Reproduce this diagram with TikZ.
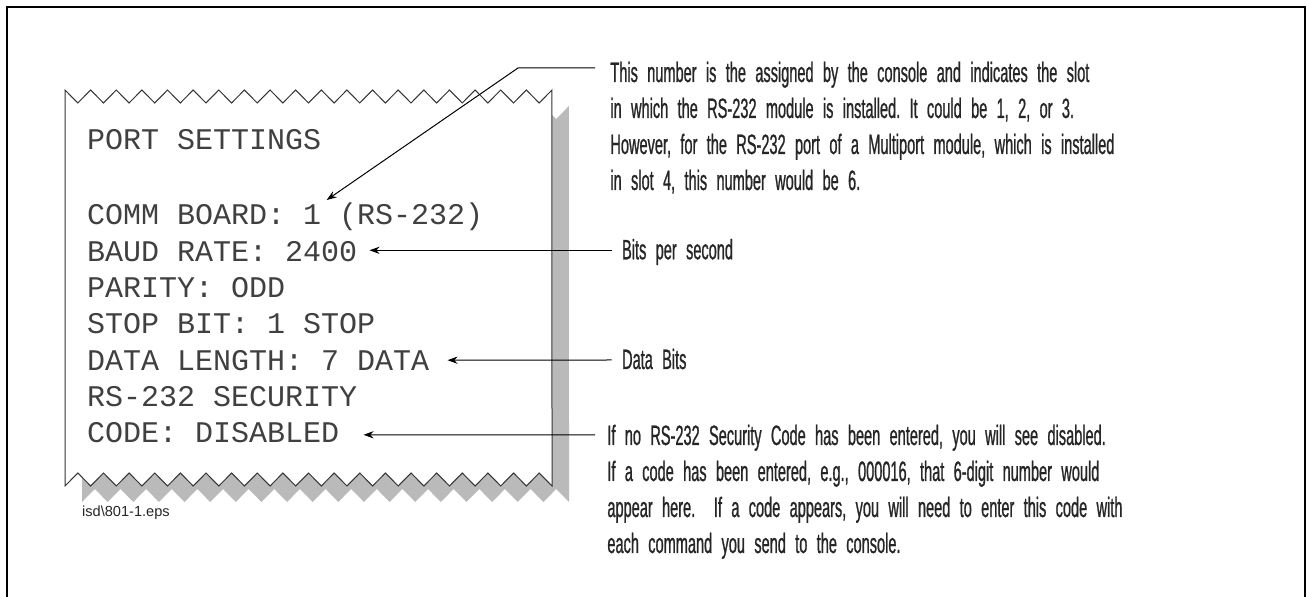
\documentclass[tikz,border=0pt]{standalone}
\usepackage{fontspec}
\setmainfont{Liberation Sans}
\setmonofont{Liberation Mono}
\newfontfamily\notefont[FakeStretch=0.52,FakeBold=0.8,WordSpace=0.7]{Liberation Sans}
\usetikzlibrary{
		arrows.meta,
		positioning
	}
\tikzset{
		>={Stealth[length=5pt,width=3.6pt]},
		slipline/.style={anchor=base west, inner sep=0pt, text=black!75,
			font=\ttfamily\fontsize{15}{18}\selectfont},
		notetext/.style={anchor=base west, inner sep=0pt, text=black!85,
			text width=400pt, align=left,
			font=\notefont\fontsize{14}{18}\selectfont\frenchspacing},
		leader/.style={->, line width=0.5pt},
		slipshadow/.style={fill=black!27}
	}
% torn receipt outline, pixel units
\newcommand{\slipoutline}{(65,90)
	\foreach \k in {0,...,18}{ -- ({77.8+25.63*\k},103) -- ({90.63+25.63*\k},90)}
	-- (552,486)
	\foreach \k in {0,...,18}{ -- ({539.2-25.63*\k},473) -- ({526.37-25.63*\k},486)}
	-- cycle}

\begin{document}
\begin{tikzpicture}[x=0.5pt,y=-0.5pt]
          \useasboundingbox (0,0) rectangle (1307,597);
          \draw[line width=1pt] (6.5,597) -- (6.5,7) -- (1304.5,7) -- (1304.5,597);

          % the receipt
          \fill[slipshadow, shift={(17,16)}] \slipoutline;
          \filldraw[fill=white, draw=black!80, line width=0.5pt] \slipoutline;

          \node[slipline] (title) at (86.7,150) {PORT SETTINGS};
          \node[slipline] (comm) at (86.7,225) {COMM BOARD: 1 (RS-232)};
          \node[slipline] (baud) at (86.7,261.3) {BAUD RATE: 2400};
          \node[slipline] (parity) at (86.7,297.6) {PARITY: ODD};
          \node[slipline] (stop) at (86.7,333.9) {STOP BIT: 1 STOP};
          \node[slipline] (datalen) at (86.7,370.2) {DATA LENGTH: 7 DATA};
          \node[slipline] (security) at (86.7,406.5) {RS-232 SECURITY};
          \node[slipline] (code) at (86.7,442.8) {CODE: DISABLED};

          \node[anchor=base west, inner sep=0pt, text=black!85,
            font=\fontsize{7.3}{9}\selectfont] (epsname) at (81.7,517) {isd\textbackslash 801-1.eps};

          % notes
          \node[notetext] (slotnote) at (610,82) {This number is the assigned by the console and indicates the slot\\
            in which the RS-232 module is installed. It could be 1, 2, or 3.\\
            However, for the RS-232 port of a Multiport module, which is installed\\
            in slot 4, this number would be 6.};
          \node[notetext] (bitsnote) at (621.7,259.3) {Bits per second};
          \node[notetext] (databits) at (621.7,369) {Data Bits};
          \node[notetext] (codenote) at (607,445) {If no RS-232 Security Code has been entered, you will see disabled.\\
            If a code has been entered, e.g., 000016, that 6-digit number would\\
            appear here.\ \ If a code appears, you will need to enter this code with\\
            each command you send to the console.};

          \coordinate (slotbend) at (518,68);
          \draw[leader] ([shift={(-15,-14)}]slotnote.base west) -- (slotbend)
            -- ([shift={(240,-25)}]comm.base west);
          \draw[leader] ([shift={(-10,-9)}]bitsnote.base west) -- ([shift={(12,-11)}]baud.base east);
          \draw[leader] ([shift={(-10,-9)}]databits.base west) -- ([shift={(18,-10)}]datalen.base east);
          \draw[leader] ([shift={(-12,-10)}]codenote.base west) -- ([shift={(24,-8)}]code.base east);

          \end{tikzpicture}
\end{document}
